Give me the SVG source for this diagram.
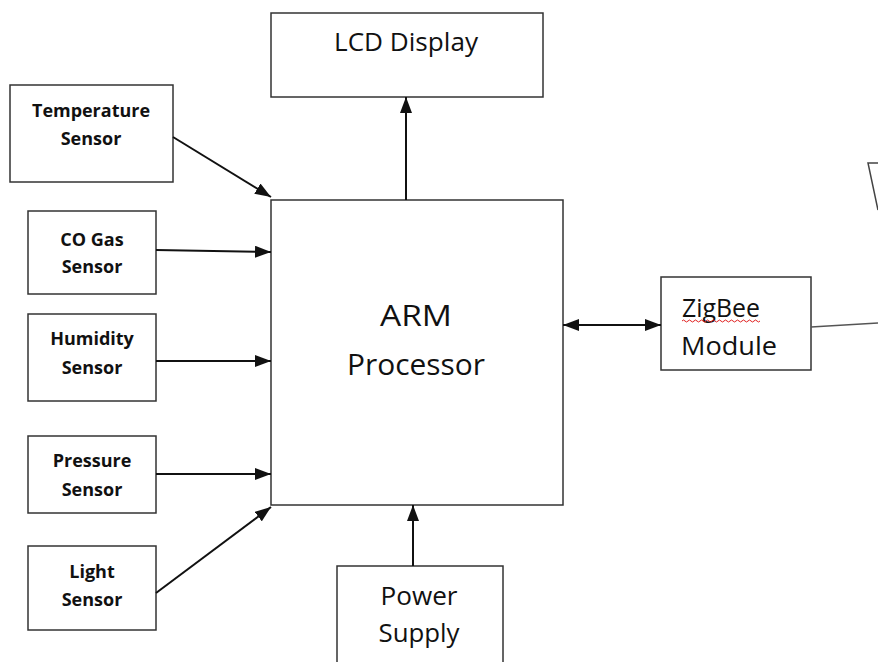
<svg xmlns="http://www.w3.org/2000/svg" width="878" height="662" viewBox="0 0 878 662">
<style>
.box{fill:#fff;stroke:#333;stroke-width:1.5}
.lbl{font-family:"Open Sans","Noto Sans",sans-serif;fill:#111;text-anchor:middle}
.sb{font-weight:bold;font-size:18px}
.big{font-size:29px}
.mid{font-size:25px}
.cn{stroke:#111;stroke-width:2;fill:none}
</style>
<defs>
<marker id="ah" viewBox="0 0 16 12" refX="16" refY="6" markerWidth="16" markerHeight="12" markerUnits="userSpaceOnUse" orient="auto-start-reverse">
<path d="M0,0 L16,6 L0,12 Z" fill="#111"/>
</marker>
</defs>
<rect width="878" height="662" fill="#fff"/>
<g id="lcd"><rect class="box" x="271" y="13" width="272" height="84"/><text class="lbl mid" x="406" y="51" textLength="144" lengthAdjust="spacingAndGlyphs">LCD Display</text></g>
<g id="arm"><rect class="box" x="271" y="200" width="292" height="305"/><text class="lbl big" x="416" y="326" textLength="72" lengthAdjust="spacingAndGlyphs">ARM</text><text class="lbl big" x="416" y="375" textLength="138" lengthAdjust="spacingAndGlyphs">Processor</text></g>
<g id="temp"><rect class="box" x="10" y="85" width="163" height="97"/><text class="lbl sb" x="91" y="117" textLength="118" lengthAdjust="spacingAndGlyphs">Temperature</text><text class="lbl sb" x="91" y="145">Sensor</text></g>
<g id="co"><rect class="box" x="28" y="211" width="128" height="83"/><text class="lbl sb" x="92" y="246">CO Gas</text><text class="lbl sb" x="92" y="273">Sensor</text></g>
<g id="hum"><rect class="box" x="28" y="314" width="128" height="87"/><text class="lbl sb" x="92" y="345">Humidity</text><text class="lbl sb" x="92" y="374">Sensor</text></g>
<g id="pres"><rect class="box" x="28" y="436" width="128" height="77"/><text class="lbl sb" x="92" y="467">Pressure</text><text class="lbl sb" x="92" y="496">Sensor</text></g>
<g id="light"><rect class="box" x="28" y="546" width="128" height="84"/><text class="lbl sb" x="92" y="578">Light</text><text class="lbl sb" x="92" y="606">Sensor</text></g>
<g id="zigbee"><rect class="box" x="661" y="277" width="150" height="93"/><text class="lbl mid" x="721" y="317" textLength="78" lengthAdjust="spacingAndGlyphs">ZigBee</text><path d="M682,321 q1.5,-2 3,0 t3,0 t3,0 t3,0 t3,0 t3,0 t3,0 t3,0 t3,0 t3,0 t3,0 t3,0 t3,0 t3,0 t3,0 t3,0 t3,0 t3,0 t3,0 t3,0 t3,0 t3,0 t3,0 t3,0 t3,0 t3,0" fill="none" stroke="#e02020" stroke-width="1"/><text class="lbl mid" x="729" y="355" textLength="96" lengthAdjust="spacingAndGlyphs">Module</text></g>
<g id="power"><rect class="box" x="337" y="566" width="166" height="100"/><text class="lbl mid" x="419" y="605" textLength="77" lengthAdjust="spacingAndGlyphs">Power</text><text class="lbl mid" x="419" y="642" textLength="81" lengthAdjust="spacingAndGlyphs">Supply</text></g>
<g id="antenna"><path d="M878,163 L868,163 L878,210" fill="none" stroke="#444" stroke-width="1.5"/></g>
<g id="connectors">
<line class="cn" x1="173" y1="137" x2="271" y2="197" marker-end="url(#ah)"/>
<line class="cn" x1="156" y1="250" x2="271" y2="252" marker-end="url(#ah)"/>
<line class="cn" x1="156" y1="361" x2="271" y2="361" marker-end="url(#ah)"/>
<line class="cn" x1="156" y1="474" x2="271" y2="474" marker-end="url(#ah)"/>
<line class="cn" x1="156" y1="593" x2="271" y2="507" marker-end="url(#ah)"/>
<line class="cn" x1="406" y1="200" x2="406" y2="97" marker-end="url(#ah)"/>
<line class="cn" x1="413" y1="566" x2="413" y2="505" marker-end="url(#ah)"/>
<line class="cn" x1="563" y1="325" x2="661" y2="325" marker-start="url(#ah)" marker-end="url(#ah)"/>
<line x1="811" y1="327" x2="878" y2="323" stroke="#555" stroke-width="1.5"/>
</g>
</svg>
